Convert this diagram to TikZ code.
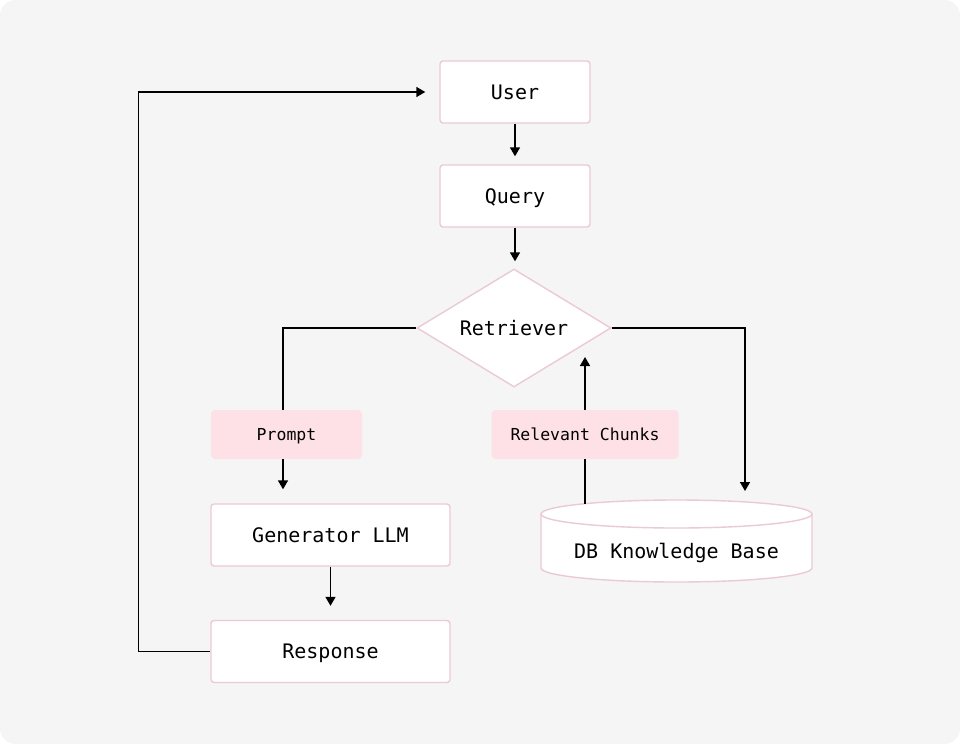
\documentclass[tikz,border=0pt]{standalone}
\usepackage{fontspec}
\setmonofont{DejaVu Sans Mono}
\usetikzlibrary{arrows.meta,shapes.geometric,calc}
\definecolor{bggray}{HTML}{F5F5F5}
\definecolor{pinkline}{HTML}{EBCBD2}
\definecolor{pinkfill}{HTML}{FDE1E6}
\begin{document}
\begin{tikzpicture}[x=1pt,y=-1pt,
  bigtext/.style={font=\ttfamily\fontsize{20}{23}\selectfont, text height=14.6pt, text depth=0pt},
  box/.style={bigtext, draw=pinkline, line width=1.4pt, fill=white, rounded corners=3pt,
    minimum width=150pt, minimum height=62pt, inner sep=0pt},
  widebox/.style={box, minimum width=239pt},
  lbl/.style={fill=pinkfill, rounded corners=4pt, inner sep=0pt, minimum height=49pt,
    font=\ttfamily\fontsize{16.5}{19}\selectfont, text height=12pt, text depth=0pt},
  dia/.style={bigtext, diamond, draw=pinkline, line width=1.4pt, fill=white, aspect=1.644,
    minimum width=194pt, minimum height=118pt, inner sep=0pt},
  conn/.style={line width=1.5pt, black},
  arr/.style={conn, -{Triangle[length=9pt,width=10pt]}}
]
\useasboundingbox (0,0) rectangle (960,744);
\fill[white] (0,0) rectangle (960,744);
\fill[bggray, rounded corners=16pt] (0,0) rectangle (960,744);

\node[box] (user) at (515,92) {User};
\node[box] (query) at (515,196) {Query};
\node[dia] (ret) at (514,328) {Retriever};
\node[lbl, minimum width=151pt] (prompt) at (286.5,434.5) {Prompt};
\node[lbl, minimum width=187pt] (chunks) at (585,434.5) {Relevant Chunks};
\node[widebox] (gen) at (330.5,535) {Generator LLM};
\node[widebox] (resp) at (330.5,651.5) {Response};

% cylinder
\fill[white] (541,514) -- (541,568) arc[start angle=180,end angle=0,x radius=135.5,y radius=14] -- (812,514) -- cycle;
\fill[white] (676.5,514) ellipse[x radius=135.5,y radius=14];
\draw[pinkline, line width=1.4pt] (541,514) -- (541,568) arc[start angle=180,end angle=0,x radius=135.5,y radius=14] -- (812,514);
\draw[pinkline, line width=1.4pt] (676.5,514) ellipse[x radius=135.5,y radius=14];
\node[bigtext] (db) at (676.5,551) {DB Knowledge Base};
\coordinate (dbin) at (745,502);
\coordinate (dbout) at (585,504);

% connectors
\draw[arr, shorten >=8pt] (user.south) -- (query.north);
\draw[arr, shorten >=7pt] (query.south) -- (query.south |- ret.north);
\draw[conn] (ret.west) -| ([xshift=-3.5pt]prompt.north);
\draw[arr, shorten >=14pt] ([xshift=-3.5pt]prompt.south) -- ([xshift=-47.5pt]gen.north);
\draw[arr, shorten >=14pt] (gen.south) -- (resp.north);
\draw[arr, shorten >=14pt] (resp.west) -- ++(-72,0) |- (user.west);
\draw[arr, shorten >=11pt] (ret.east) -| (dbin);
\draw[conn] (dbout) -- (chunks.south);
\coordinate (rettip) at (585,344);
\draw[arr, shorten >=13pt] (chunks.north) -- (rettip);
\end{tikzpicture}
\end{document}
